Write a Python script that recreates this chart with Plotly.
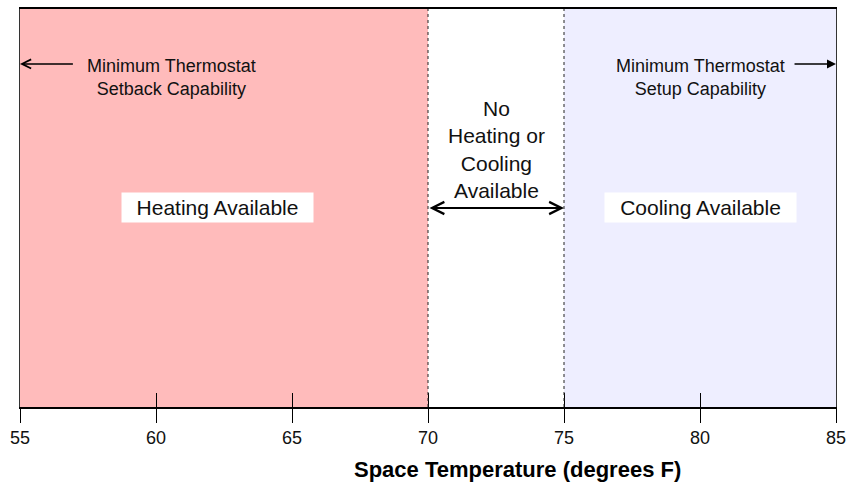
import plotly.graph_objects as go

# ---- data ----
x_range = [55, 85]
tick_vals = [55, 60, 65, 70, 75, 80, 85]
tick_text = ["55", "60", "65", "70", "75", "80", "85"]
heating_range = [55, 70]
deadband_range = [70, 75]
cooling_range = [75, 85]
setback_arrow = [57.0, 55]   # tail, tip
setup_arrow = [83.42, 85]    # tail, tip
region_labels = ["Heating Available", "Cooling Available"]
region_label_x = [62.26, 80.02]
deadband_label = "No<br>Heating or<br>Cooling<br>Available"
setback_label = "Minimum Thermostat<br>Setback Capability"
setup_label = "Minimum Thermostat<br>Setup Capability"
axis_title = "Space Temperature (degrees F)"

FONT = "Liberation Sans, Arial, sans-serif"
HEAT_COLOR = "#FFBBBB"
COOL_COLOR = "#EEEEFF"

fig = go.Figure()
# invisible traces so both axes are realised
fig.add_trace(go.Scatter(x=x_range, y=[0, 1], mode="markers", marker=dict(opacity=0),
                         hoverinfo="skip", showlegend=False))
fig.add_trace(go.Scatter(x=x_range, y=[0, 1], mode="markers", marker=dict(opacity=0),
                         hoverinfo="skip", showlegend=False, xaxis="x2"))

shapes = []
shapes.append(dict(type="rect", xref="x", yref="y", x0=heating_range[0], x1=heating_range[1],
                   y0=0, y1=1, fillcolor=HEAT_COLOR, line=dict(width=0), layer="below"))
shapes.append(dict(type="rect", xref="x", yref="y", x0=cooling_range[0], x1=cooling_range[1],
                   y0=0, y1=1, fillcolor=COOL_COLOR, line=dict(width=0), layer="below"))
for xv in deadband_range:
    shapes.append(dict(type="line", xref="x", yref="y", x0=xv, x1=xv, y0=0, y1=1,
                       line=dict(color="#222222", width=1, dash="dot")))

annotations = []
# region labels (white boxes)
for txt, xv in zip(region_labels, region_label_x):
    annotations.append(dict(x=xv, y=0.502, xref="x", yref="y", text=txt, showarrow=False,
                            font=dict(family=FONT, size=21, color="#111111"),
                            bgcolor="white", width=187, height=25, borderpad=2))
# deadband text
annotations.append(dict(x=sum(deadband_range) / 2, y=0.648, xref="x", yref="y",
                        text=deadband_label, showarrow=False,
                        font=dict(family=FONT, size=21, color="#111111")))
# double arrow
annotations.append(dict(x=deadband_range[1], y=0.5, ax=deadband_range[0], ay=0.5,
                        xref="x", yref="y", axref="x", ayref="y", text="",
                        showarrow=True, arrowside="end+start", arrowhead=5, startarrowhead=5,
                        arrowsize=1.2, startarrowsize=1.2, arrowwidth=2, arrowcolor="black"))
# setback text + arrow
annotations.append(dict(x=60.57, y=0.827, xref="x", yref="y", text=setback_label,
                        showarrow=False, font=dict(family=FONT, size=18, color="#111111")))
annotations.append(dict(x=setback_arrow[1], y=0.862, ax=setback_arrow[0], ay=0.862,
                        xref="x", yref="y", axref="x", ayref="y", text="",
                        showarrow=True, arrowhead=5, arrowsize=1.2, arrowwidth=1.5,
                        arrowcolor="black"))
# setup text + arrow
annotations.append(dict(x=80.0, y=0.827, xref="x", yref="y", text=setup_label,
                        showarrow=False, font=dict(family=FONT, size=18, color="#111111")))
annotations.append(dict(x=setup_arrow[1], y=0.862, ax=setup_arrow[0], ay=0.862,
                        xref="x", yref="y", axref="x", ayref="y", text="",
                        showarrow=True, arrowhead=2, arrowsize=1.2, arrowwidth=1.5,
                        arrowcolor="black"))
# axis title
annotations.append(dict(x=73.29, y=-0.158, xref="x", yref="paper", yanchor="middle",
                        text="<b>" + axis_title + "</b>",
                        showarrow=False, font=dict(family=FONT, size=22, color="black")))

fig.update_layout(
    width=848, height=485, autosize=False,
    margin=dict(l=20, r=12, t=9, b=78, autoexpand=False),
    paper_bgcolor="white", plot_bgcolor="white",
    showlegend=False,
    font=dict(family=FONT, color="black"),
    shapes=shapes, annotations=annotations,
    xaxis=dict(range=x_range, tickvals=tick_vals, ticktext=tick_text,
               ticks="outside", ticklen=14, tickwidth=1, tickcolor="black",
               showline=True, linecolor="black", linewidth=1.5, mirror=True,
               showgrid=False, zeroline=False, automargin=False,
               ticklabeloverflow="allow",
               tickfont=dict(family=FONT, size=18, color="#111111")),
    xaxis2=dict(range=x_range, tickvals=tick_vals, overlaying="x", side="bottom",
                ticks="inside", ticklen=14, tickwidth=1, tickcolor="black",
                showticklabels=False, showline=False, showgrid=False, zeroline=False),
    yaxis=dict(range=[0, 1], showline=True, linecolor="#333333", linewidth=1, mirror=True,
               showticklabels=False, ticks="", showgrid=False, zeroline=False),
)

post = (
    "document.documentElement.style.overflow='hidden';"
    "document.body.style.margin='0';"
    "document.body.style.overflow='hidden';"
)
fig.write_html("out.html",
               config={"displayModeBar": False, "responsive": False},
               post_script=post)
